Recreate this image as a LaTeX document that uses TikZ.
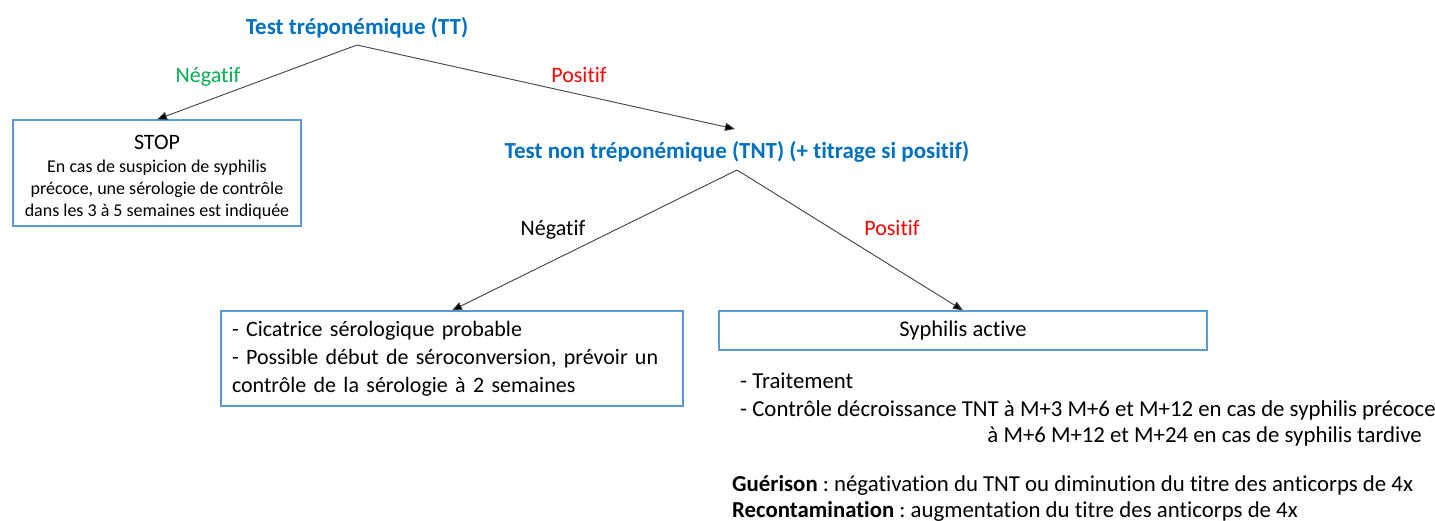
\documentclass[tikz,border=0pt]{standalone}
\usepackage{fontspec}
\setmainfont[Ligatures=NoCommon]{Carlito}
\usetikzlibrary{arrows.meta}
\definecolor{tblue}{HTML}{0070C0}
\definecolor{tgreen}{HTML}{00B050}
\definecolor{tred}{HTML}{FF0000}
\definecolor{boxblue}{HTML}{5B9BD5}
\definecolor{lgray}{HTML}{404040}
\frenchspacing
\tikzset{
  body/.style={font=\fontsize{22}{27}\selectfont, inner sep=0pt},
  bottom/.style={font=\fontsize{22.8}{27}\selectfont, inner sep=0pt},
  title/.style={font=\bfseries\fontsize{23}{27}\selectfont, text=tblue, inner sep=0pt},
  box/.style={draw=boxblue, line width=1.2pt, inner sep=0pt},
  arr/.style={draw=lgray, line width=0.9pt, -{Triangle[length=10pt,width=8pt,fill=black]}},
}
\begin{document}
\begin{tikzpicture}[x=1pt,y=-1pt]
\useasboundingbox (0,0) rectangle (1435,520);
% titles
\node[title, anchor=base] (tt) at (357,34) {Test tréponémique (TT)};
\node[title, anchor=base] (tnt) at (737,158) {Test non tréponémique (TNT) (+ titrage si positif)};
\coordinate (ttfork) at (357,45);
\coordinate (tnttop) at (735,129);
\coordinate (tntfork) at (737,170);
% boxes
\node[box, minimum width=288, minimum height=106, align=center,
      font=\fontsize{18}{22}\selectfont] (stop) at (157,173)
  {{\fontsize{22}{25}\selectfont\rule{0pt}{22pt}STOP}\\[1pt]
   En cas de suspicion de syphilis\\
   précoce, une sérologie de contrôle\\
   dans les 3 à 5 semaines est indiquée};
\node[box, minimum width=462, minimum height=95, text width=440, align=left,
      font=\fontsize{22}{28}\selectfont] (cic) at (452,358.5)
  {- Cicatrice sérologique probable\\
   - Possible début de séroconversion, prévoir un\\
   contrôle de la sérologie à 2 semaines};
\node[box, minimum width=488, minimum height=39, font=\fontsize{22.5}{27}\selectfont] (syph) at (963,330.5) {Syphilis active};
% connectors
\draw[arr] (ttfork) -- (stop.north);
\draw[arr] (ttfork) -- (tnttop);
\draw[arr] (tntfork) -- (cic.north);
\draw[arr] (tntfork) -- (syph.north);
% branch labels
\node[body, text=tgreen, anchor=base] (neg1) at (208,82) {Négatif};
\node[body, text=tred, anchor=base] (pos1) at (579,82) {Positif};
\node[body, anchor=base] (neg2) at (553,235) {Négatif};
\node[body, text=tred, anchor=base] (pos2) at (892,235) {Positif};
% treatment text
\node[bottom, anchor=base west] (trt) at (740,388) {- Traitement};
\node[bottom, anchor=base west] (ctrl) at (740,416) {- Contrôle décroissance TNT à M+3 M+6 et M+12 en cas de syphilis précoce};
\node[bottom, anchor=base east] (ctrl2) at (1422,442) {à M+6 M+12 et M+24 en cas de syphilis tardive};
\node[bottom, anchor=base west] (guer) at (732,491) {\textbf{Guérison} : négativation du TNT ou diminution du titre des anticorps de 4x};
\node[bottom, anchor=base west] (recon) at (732,517) {\textbf{Recontamination} : augmentation du titre des anticorps de 4x};
\end{tikzpicture}
\end{document}
